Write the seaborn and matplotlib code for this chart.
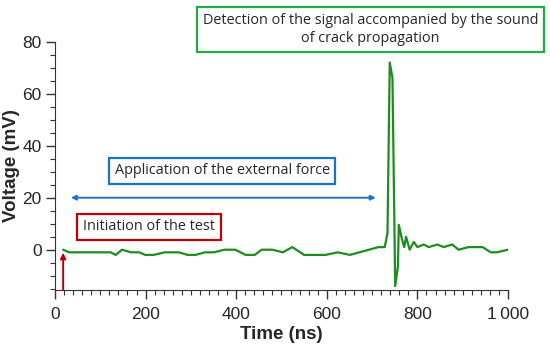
import matplotlib
matplotlib.use("Agg")
import matplotlib.pyplot as plt
from matplotlib.ticker import MultipleLocator, FixedLocator
import pandas as pd
import seaborn as sns

# signal
time_ns = [18, 31, 123, 134, 148, 168, 186, 199, 218, 242, 273, 293, 310, 331, 351,
           374, 398, 421, 441, 456, 480, 503, 524, 550, 597, 624, 651, 714, 728,
           734, 739, 745, 751, 757, 759, 766, 771, 775, 783, 792, 800, 814, 825,
           844, 858, 877, 891, 913, 944, 962, 975, 1000]
voltage_mv = [0, -1, -1, -2, 0, -1, -1, -2, -2, -1, -1, -2, -2, -1, -1,
              0, 0, -2, -2, 0, 0, -1, 1, -2, -2, -1, -2, 1, 1,
              6.5, 72, 66, -14, -6.5, 9.6, 4, 1, 5, 0, 3, 1, 2, 1,
              2, 1, 2, 0, 1, 1, -1, -1, 0]

x_ticks = [0, 200, 400, 600, 800, 1000]
x_tick_labels = ["0", "200", "400", "600", "800", "1\u2009000"]
y_ticks = [0, 20, 40, 60, 80]

df = pd.DataFrame({"Time (ns)": time_ns, "Voltage (mV)": voltage_mv})

sns.set_style("ticks")
plt.rcParams["font.family"] = ["Liberation Sans", "DejaVu Sans"]

fig = plt.figure(figsize=(5.5, 3.46), dpi=100)
ax = fig.add_axes([0.1, 0.1618, 0.8236, 0.7177])

sns.lineplot(data=df, x="Time (ns)", y="Voltage (mV)", color="#1e8c1e",
             linewidth=1.6, ax=ax)

ax.set_xlim(0, 1000)
ax.set_ylim(-15.5, 80)
ax.set_xticks(x_ticks)
ax.set_xticklabels(x_tick_labels)
ax.set_yticks(y_ticks)
ax.xaxis.set_minor_locator(MultipleLocator(20))
ax.yaxis.set_minor_locator(FixedLocator([v for v in range(-15, 81, 5) if v % 20]))
ax.tick_params(which="major", length=6.5, width=1, labelsize=12.5, color="#333333")
ax.tick_params(axis="x", which="major", pad=5.5)
ax.tick_params(axis="y", which="major", pad=3)
ax.tick_params(which="minor", length=3.5, width=0.8, color="#333333")
for s in ["left", "bottom"]:
    ax.spines[s].set_color("#333333")
sns.despine(ax=ax)

ax.set_xlabel("Time (ns)", fontsize=13.5, fontweight="bold", labelpad=3)
ax.set_ylabel("Voltage (mV)", fontsize=13.5, fontweight="bold", labelpad=2)

box_font = ["Open Sans", "DejaVu Sans"]

# red arrow: start of test
ax.annotate("", xy=(18, -1.2), xytext=(18, -15.5),
            arrowprops=dict(arrowstyle="-|>", color="#c00000", lw=1.4,
                            mutation_scale=8, shrinkA=0, shrinkB=0),
            annotation_clip=False)
ax.text(208, 8.8, "Initiation of the test", ha="center", va="center",
        fontsize=10.4, family=box_font,
        bbox=dict(boxstyle="square,pad=0.4", fc="white", ec="#c00000", lw=1.6))

# blue double arrow: external force
ax.annotate("", xy=(35, 20), xytext=(708, 20),
            arrowprops=dict(arrowstyle="<|-|>", color="#1a73c8", lw=1.4,
                            mutation_scale=7, shrinkA=0, shrinkB=0))
ax.text(369, 30.3, "Application of the external force", ha="center", va="center",
        fontsize=10.4, family=box_font,
        bbox=dict(boxstyle="square,pad=0.4", fc="white", ec="#1a73c8", lw=1.6))

# green box: detection
ax.text(696, 84.8, "Detection of the signal accompanied by the sound\nof crack propagation",
        ha="center", va="center", fontsize=10.4, family=box_font, linespacing=1.3,
        clip_on=False,
        bbox=dict(boxstyle="square,pad=0.4", fc="white", ec="#22aa44", lw=1.6))

fig.savefig("out.png", dpi=100)
